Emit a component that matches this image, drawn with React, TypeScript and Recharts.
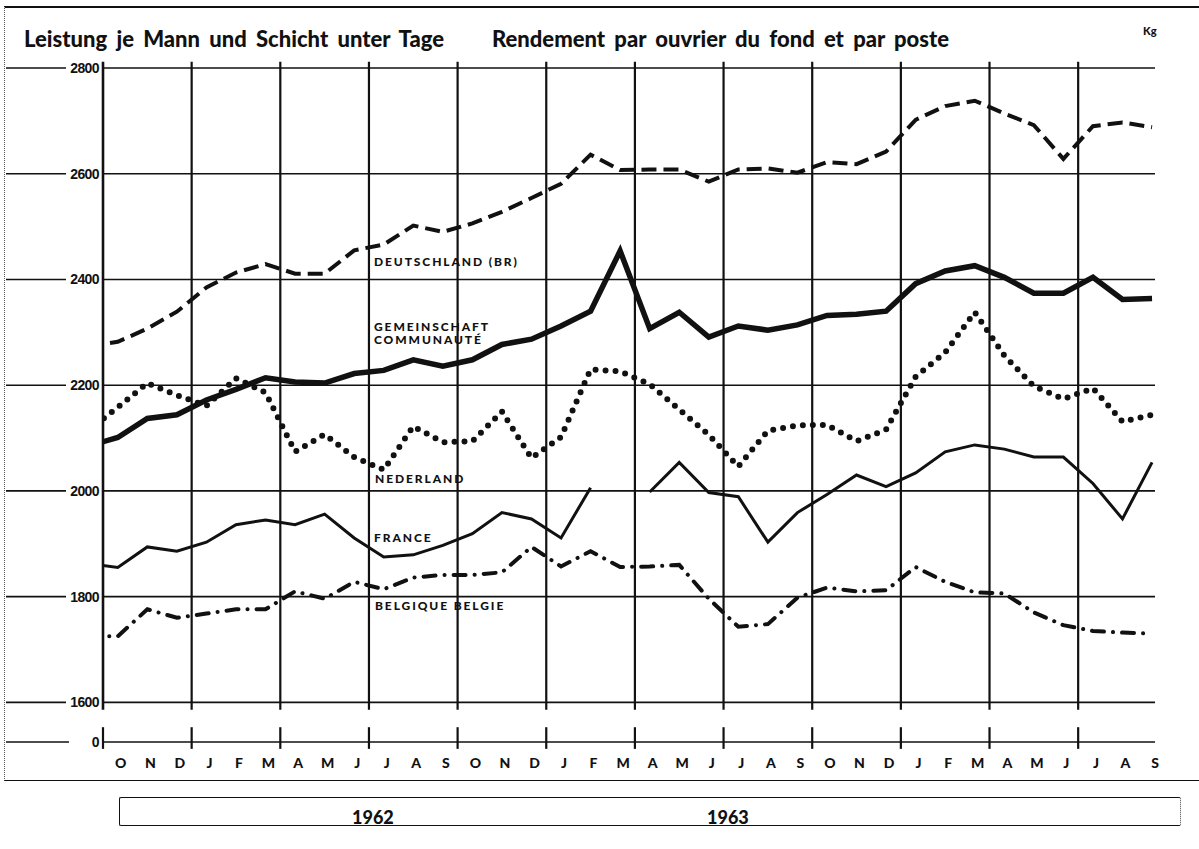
import React from "react";
import { LineChart, Line, XAxis, YAxis, CartesianGrid, ReferenceLine } from "recharts";

// Month initials, October 1961 to September 1964
const months = [
  "O", "N", "D", "J", "F", "M", "A", "M", "J", "J", "A", "S",
  "O", "N", "D", "J", "F", "M", "A", "M", "J", "J", "A", "S",
  "O", "N", "D", "J", "F", "M", "A", "M", "J", "J", "A", "S",
];

// Kg per man-shift underground. The first value is September 1961,
// only its run-in up to the axis is visible.
const deutschland = [
  2274, 2282, 2307, 2339, 2385, 2413, 2429, 2411, 2411, 2455, 2466, 2502, 2490,
  2506, 2528, 2554, 2581, 2636, 2607, 2608, 2608, 2585, 2608, 2610, 2602,
  2622, 2618, 2642, 2702, 2728, 2738, 2714, 2692, 2628, 2690, 2697, 2688,
];
const gemeinschaft = [
  2085, 2101, 2137, 2144, 2172, 2192, 2214, 2206, 2204, 2222, 2228, 2248, 2236,
  2248, 2277, 2287, 2312, 2340, 2454, 2307, 2338, 2291, 2312, 2304, 2314,
  2332, 2334, 2340, 2392, 2416, 2426, 2404, 2374, 2374, 2404, 2362, 2364,
];
const nederland = [
  2114, 2158, 2204, 2181, 2161, 2213, 2186, 2074, 2107, 2064, 2040, 2122, 2092,
  2094, 2150, 2062, 2102, 2230, 2226, 2202, 2154, 2106, 2046, 2114, 2124,
  2125, 2094, 2116, 2216, 2262, 2338, 2256, 2198, 2174, 2194, 2131, 2144,
];
const france: (number | null)[] = [
  1863, 1855, 1894, 1886, 1903, 1936, 1945, 1936, 1956, 1911, 1875, 1879, 1897,
  1919, 1959, 1947, 1911, 2006, null, 1998, 2054, 1997, 1989, 1903, 1959,
  1993, 2030, 2008, 2034, 2074, 2087, 2079, 2064, 2064, 2014, 1947, 2054,
];
const belgique = [
  1725, 1725, 1776, 1760, 1768, 1776, 1776, 1810, 1796, 1828, 1814, 1836, 1841,
  1841, 1846, 1894, 1857, 1886, 1856, 1857, 1860, 1796, 1743, 1748, 1798,
  1817, 1810, 1812, 1856, 1828, 1808, 1806, 1770, 1746, 1735, 1732, 1730,
];

// 1525 is the broken-axis "0" line
const yTicks = [1525, 1600, 1800, 2000, 2200, 2400, 2600, 2800];
const quarterLines = [0, 3, 6, 9, 12, 15, 18, 21, 24, 27, 30, 33];

const rows = deutschland.map((_, i) => ({
  m: i - 0.5,
  de: deutschland[i],
  ge: gemeinschaft[i],
  nl: nederland[i],
  fr: france[i],
  be: belgique[i],
}));

const ink = "#111";
const labelFont = "Lato, 'Open Sans', sans-serif";

const YTick = ({ y, payload }: any) => {
  const zero = payload.value === 1525;
  return (
    <g>
      <line x1={6} x2={zero ? 69 : 66} y1={y} y2={y} stroke={ink} strokeWidth={1.6} />
      <text
        x={99}
        y={y + 5}
        textAnchor="end"
        fontFamily="'Liberation Sans', Arial, sans-serif"
        fontWeight={700}
        fontSize={14}
        letterSpacing={-0.6}
        fill={ink}
      >
        {zero ? "0" : payload.value}
      </text>
    </g>
  );
};

const XTick = ({ x, payload }: any) => (
  <text
    x={x + 3}
    y={768}
    textAnchor="middle"
    fontFamily={labelFont}
    fontWeight={900}
    fontSize={14}
    fill={ink}
  >
    {months[Math.floor(payload.value)]}
  </text>
);

const seriesLabel = (text: string, left: number, top: number, extra?: any) => (
  <div
    style={{
      position: "absolute",
      left,
      top,
      fontFamily: labelFont,
      fontWeight: 900,
      fontSize: 12,
      letterSpacing: 1.9,
      lineHeight: "14px",
      color: ink,
      whiteSpace: "nowrap",
      ...extra,
    }}
  >
    {text}
  </div>
);

const titleStyle: React.CSSProperties = {
  position: "absolute",
  top: 26,
  fontFamily: labelFont,
  fontWeight: 900,
  fontSize: 22,
  wordSpacing: 4,
  lineHeight: "26px",
  color: ink,
  whiteSpace: "nowrap",
};

export default function App() {
  return (
    <div
      style={{
        position: "absolute",
        left: 0,
        top: 0,
        width: 1199,
        height: 849,
        background: "#fff",
        overflow: "hidden",
      }}
    >
      {/* frame */}
      <div style={{ position: "absolute", left: 4, top: 6, width: 1195, height: 772, borderTop: `2px solid ${ink}`, borderLeft: "1.5px dotted #555", borderBottom: `1.5px solid ${ink}` }} />

      <div style={{ ...titleStyle, left: 24 }}>Leistung je Mann und Schicht unter Tage</div>
      <div style={{ ...titleStyle, left: 492 }}>Rendement par ouvrier du fond et par poste</div>
      {seriesLabel("Kg", 1143, 24, { fontSize: 11, letterSpacing: 0 })}

      <div style={{ position: "absolute", left: 0, top: 0 }}>
        <LineChart
          width={1199}
          height={849}
          data={rows}
          margin={{ top: 68, right: 44, left: 43, bottom: 77 }}
        >
          <CartesianGrid vertical={false} stroke={ink} strokeWidth={1.6} />
          <XAxis
            type="number"
            dataKey="m"
            domain={[0, 35.6]}
            allowDataOverflow
            ticks={months.map((_, i) => i + 0.5)}
            interval={0}
            tickLine={false}
            axisLine={false}
            height={30}
            tick={<XTick />}
          />
          <YAxis
            type="number"
            domain={[1525, 2800]}
            ticks={yTicks}
            interval={0}
            allowDataOverflow
            axisLine={false}
            tickLine={false}
            width={60}
            tick={<YTick />}
          />
          {quarterLines.map((q) => (
            <ReferenceLine
              key={`a${q}`}
              segment={[{ x: q, y: 2812 }, { x: q, y: 1586 }]}
              stroke={ink}
              strokeWidth={q === 0 ? 2.6 : 2.2}
              ifOverflow="visible"
            />
          ))}
          {quarterLines.map((q) => (
            <ReferenceLine
              key={`b${q}`}
              segment={[{ x: q, y: 1553 }, { x: q, y: 1512 }]}
              stroke={ink}
              strokeWidth={2.2}
              ifOverflow="visible"
            />
          ))}
          <Line
            dataKey="de"
            stroke={ink}
            strokeWidth={4}
            strokeDasharray="15 7"
            dot={false}
            isAnimationActive={false}
          />
          <Line
            dataKey="ge"
            stroke={ink}
            strokeWidth={5.5}
            strokeLinejoin="miter"
            dot={false}
            isAnimationActive={false}
          />
          <Line
            dataKey="nl"
            stroke={ink}
            strokeWidth={6}
            strokeDasharray="0 10"
            strokeLinecap="round"
            dot={false}
            isAnimationActive={false}
          />
          <Line
            dataKey="fr"
            stroke={ink}
            strokeWidth={3}
            dot={false}
            connectNulls={false}
            isAnimationActive={false}
          />
          <Line
            dataKey="be"
            stroke={ink}
            strokeWidth={4}
            strokeDasharray="12 9 0.1 9"
            strokeLinecap="round"
            dot={false}
            isAnimationActive={false}
          />
        </LineChart>
      </div>

      {seriesLabel("DEUTSCHLAND (BR)", 374, 255)}
      {seriesLabel("GEMEINSCHAFT", 374, 320)}
      {seriesLabel("COMMUNAUTÉ", 374, 333)}
      {seriesLabel("NEDERLAND", 375, 472)}
      {seriesLabel("FRANCE", 374, 531)}
      {seriesLabel("BELGIQUE BELGIE", 375, 599)}

      {/* year bar */}
      <div
        style={{
          position: "absolute",
          left: 119,
          top: 797,
          width: 1060,
          height: 27,
          borderTop: `1.5px solid ${ink}`,
          borderBottom: `1.5px solid ${ink}`,
          borderLeft: `1.5px solid ${ink}`,
          borderRight: "1.5px dotted #444",
          borderRadius: 2,
        }}
      />
      <div style={{ position: "absolute", left: 352, top: 807, fontFamily: labelFont, fontWeight: 900, fontSize: 18, lineHeight: "20px", color: ink }}>
        1962
      </div>
      <div style={{ position: "absolute", left: 707, top: 807, fontFamily: labelFont, fontWeight: 900, fontSize: 18, lineHeight: "20px", color: ink }}>
        1963
      </div>
    </div>
  );
}
